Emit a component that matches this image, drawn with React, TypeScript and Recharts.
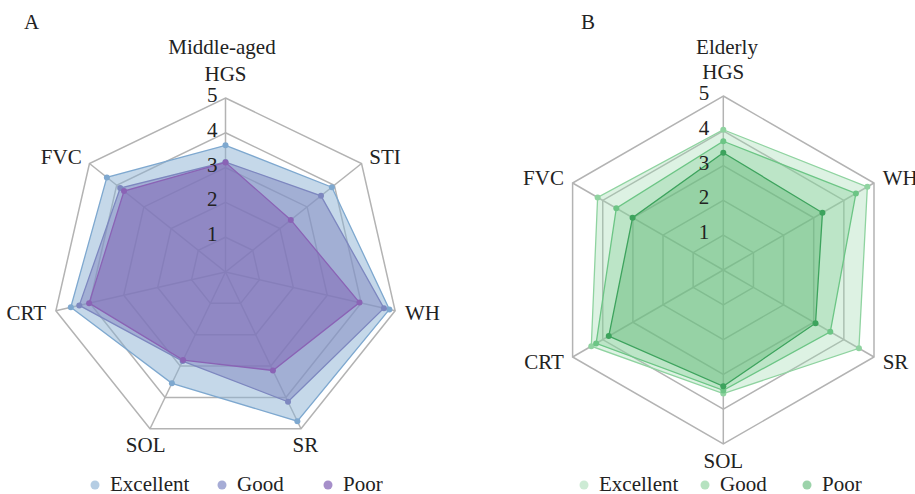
import React from "react";
import { PolarAngleAxis, PolarGrid, PolarRadiusAxis, Radar, RadarChart } from "recharts";

// Panel A - middle-aged
const leftCategories = ["HGS", "STI", "WH", "SR", "SOL", "CRT", "FVC"];
const leftExcellent = [3.64, 3.91, 4.83, 4.76, 3.55, 4.56, 4.36];
const leftGood = [3.16, 3.51, 4.67, 4.14, 2.84, 4.31, 3.87];
const leftPoor = [3.15, 2.4, 3.95, 3.14, 2.81, 4.02, 3.73];

// Panel B - elderly
const rightCategories = ["HGS", "WH", "SR", "SOL", "CRT", "FVC"];
const rightExcellent = [4.03, 4.78, 4.5, 3.55, 4.38, 4.17];
const rightGood = [3.7, 4.4, 3.55, 3.46, 4.22, 3.55];
const rightPoor = [3.37, 3.29, 3.06, 3.34, 3.8, 3.01];

const seriesNames = ["Excellent", "Good", "Poor"];

const FONT = "Liberation Serif, DejaVu Serif, serif";
const TEXT = "#222";
const R = 174;
const txt = { fontFamily: FONT, fontSize: 21 };

const buildRows = (cats: string[], ex: number[], gd: number[], pr: number[]) =>
    cats.map((c, i) => ({ axis: c, Excellent: ex[i], Good: gd[i], Poor: pr[i] }));

const leftData = buildRows(leftCategories, leftExcellent, leftGood, leftPoor);
const rightData = buildRows(rightCategories, rightExcellent, rightGood, rightPoor);

const blue = {
    fill: ["#8cb2d4", "#7f86c0", "#7d62b3"],
    stroke: ["#7ea8cf", "#7d87bf", "#8a63b5"],
    opacity: 0.5,
    marker: ["#b5cde3", "#a6acd6", "#a68fca"],
};
const green = {
    fill: ["#9fd9ae", "#7dce93", "#4fae68"],
    stroke: ["#8fd3a0", "#6cc585", "#3da35d"],
    opacity: 0.35,
    marker: ["#cdebd5", "#b6e2c0", "#9cd3aa"],
};

const angleTick = (cx: number, cy: number) => (props: any) => {
    const { payload } = props;
    const ang = (payload.coordinate * Math.PI) / 180;
    const cos = Math.cos(ang);
    const sin = Math.sin(ang);
    const r = R + 10;
    let x = cx + r * cos;
    let y = cy - r * sin;
    let anchor: "start" | "middle" | "end" = "middle";
    if (cos > 0.5) anchor = "start";
    else if (cos < -0.5) anchor = "end";
    if (sin > 0.9) y = cy - R - 17;
    else if (sin < -0.5) y = y + 14;
    else y = y + 7;
    return (
        <text x={x} y={y} textAnchor={anchor} style={txt} fill={TEXT}>
            {payload.value}
        </text>
    );
};

const radiusTick = (offset: number) => (props: any) => {
    const { x, y, payload } = props;
    if (payload.value === 0) return <g />;
    return (
        <text x={x - offset} y={y + 4} textAnchor="end" style={txt} fill={TEXT}>
            {payload.value}
        </text>
    );
};

const Panel = ({ data, cx, cy, width, palette, tickOffset }: any) => (
    <RadarChart width={width} height={494} data={data} cx={cx} cy={cy} outerRadius={R}
        margin={{ top: 0, right: 0, bottom: 0, left: 0 }}>
        <PolarGrid gridType="polygon" stroke="#b3b3b3" strokeWidth={1.5} />
        <PolarAngleAxis dataKey="axis" tick={angleTick(cx, cy)} tickLine={false} axisLine={false} />
        {seriesNames.map((s, i) => (
            <Radar key={s} name={s} dataKey={s} isAnimationActive={false}
                fill={palette.fill[i]} fillOpacity={palette.opacity}
                stroke={palette.stroke[i]} strokeWidth={1.3}
                dot={{ r: 3, fill: palette.stroke[i], stroke: "none", fillOpacity: 1 }} />
        ))}
        <PolarRadiusAxis angle={90} domain={[0, 5]} tickCount={6} axisLine={false} tickLine={false}
            tick={radiusTick(tickOffset)} />
    </RadarChart>
);

const LegendRow = ({ xs, palette }: any) => (
    <>
        {seriesNames.map((s, i) => (
            <g key={s}>
                <circle cx={xs[i]} cy={485} r={4.5} fill={palette.marker[i]} />
                <text x={xs[i] + 15} y={491} style={txt} fill={TEXT}>{s}</text>
            </g>
        ))}
    </>
);

export default function App() {
    return (
        <div style={{ position: "absolute", left: 0, top: 0, width: 915, height: 494, background: "#fff", fontFamily: FONT }}>
            <div style={{ position: "absolute", left: 0, top: 0 }}>
                <Panel data={leftData} cx={225.5} cy={272} width={460} palette={blue} tickOffset={8} />
            </div>
            <div style={{ position: "absolute", left: 460, top: 0 }}>
                <Panel data={rightData} cx={263.3} cy={270} width={455} palette={green} tickOffset={14} />
            </div>
            <svg width={915} height={494} style={{ position: "absolute", left: 0, top: 0, pointerEvents: "none" }}>
                <text x={24} y={29} style={txt} fill={TEXT}>A</text>
                <text x={581} y={29} style={txt} fill={TEXT}>B</text>
                <text x={222} y={54} textAnchor="middle" style={txt} fill={TEXT}>Middle-aged</text>
                <text x={727} y={54} textAnchor="middle" style={txt} fill={TEXT}>Elderly</text>
                <LegendRow xs={[95, 222, 328]} palette={blue} />
                <LegendRow xs={[584, 705, 807]} palette={green} />
            </svg>
        </div>
    );
}
